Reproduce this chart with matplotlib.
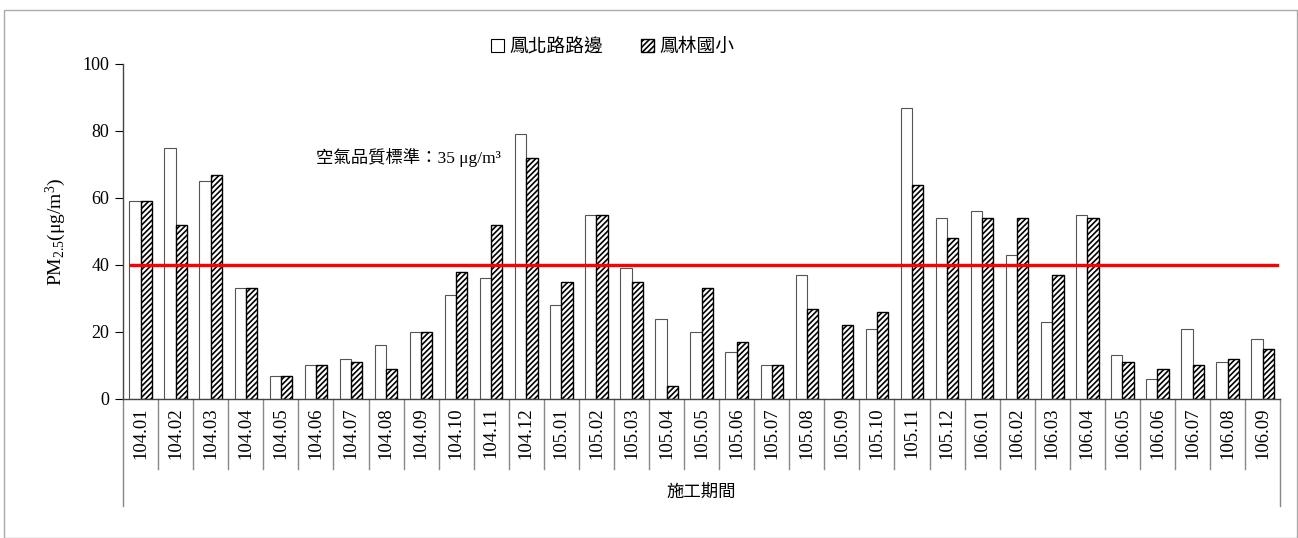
import numpy as np
import matplotlib.pyplot as plt
from matplotlib.patches import Rectangle, Patch

plt.rcParams['font.family'] = ['Liberation Serif', 'Noto Sans CJK TC']
plt.rcParams['mathtext.fontset'] = 'custom'
plt.rcParams['mathtext.rm'] = 'Liberation Serif'
plt.rcParams['mathtext.it'] = 'Liberation Serif:italic'
plt.rcParams['hatch.linewidth'] = 1.2

# data
periods = ['104.01', '104.02', '104.03', '104.04', '104.05', '104.06', '104.07',
           '104.08', '104.09', '104.10', '104.11', '104.12', '105.01', '105.02',
           '105.03', '105.04', '105.05', '105.06', '105.07', '105.08', '105.09',
           '105.10', '105.11', '105.12', '106.01', '106.02', '106.03', '106.04',
           '106.05', '106.06', '106.07', '106.08', '106.09']
fengbei = [59, 75, 65, 33, 7, 10, 12, 16, 20, 31, 36, 79, 28, 55, 39, 24, 20,
           14, 10, 37, 0, 21, 87, 54, 56, 43, 23, 55, 13, 6, 21, 11, 18]
fenglin = [59, 52, 67, 33, 7, 10, 11, 9, 20, 38, 52, 72, 35, 55, 35, 4, 33,
           17, 10, 27, 22, 26, 64, 48, 54, 54, 37, 54, 11, 9, 10, 12, 15]
series_names = ['鳳北路路邊', '鳳林國小']
standard_value = 40
standard_label = '空氣品質標準：35 μg/m³'

n = len(periods)
x = np.arange(n)

fig = plt.figure(figsize=(12.98, 5.38), dpi=100)
fig.patches.append(Rectangle((0.003, 0.0), 0.996, 0.981, transform=fig.transFigure,
                             fill=False, edgecolor='#aaaaaa', linewidth=1.0))
ax = fig.add_axes([0.0948, 0.2584, 0.8915, 0.6227])

w = 0.32
ax.bar(x - w / 2, fengbei, w, facecolor='white', edgecolor='#555555', linewidth=0.8)
ax.bar(x + w / 2, fenglin, w, facecolor='white', edgecolor='black', linewidth=1.0,
       hatch='//////')

ax.axhline(standard_value, xmin=0.007, xmax=0.997, color='#ff0000', linewidth=2.4)
ax.text(5.0, 72, standard_label, fontsize=12.5, va='center', ha='left')

ax.set_xlim(-0.5, n - 0.5)
ax.set_ylim(0, 100)
ax.set_yticks([0, 20, 40, 60, 80, 100])
ax.tick_params(axis='y', direction='out', length=6, labelsize=13, pad=4)
ax.tick_params(axis='x', length=0, pad=6)
ax.set_xticks(x)
ax.set_xticklabels(periods, rotation=90, fontsize=13.5)

for s in ['top', 'right']:
    ax.spines[s].set_visible(False)
for s in ['left', 'bottom']:
    ax.spines[s].set_color('#444444')
    ax.spines[s].set_linewidth(1.0)

# category separators below the axis
trans = ax.get_xaxis_transform()
for b in np.arange(0.5, n - 0.5, 1.0):
    ax.plot([b, b], [0, -0.21], transform=trans, color='#888888', linewidth=1.0, clip_on=False)
for b in [-0.5, n - 0.5]:
    ax.plot([b, b], [0, -0.32], transform=trans, color='#888888', linewidth=1.0, clip_on=False)

ax.set_ylabel('PM$_{2.5}$(μg/m$^{3}$)', fontsize=14, labelpad=10)
ax.text(0.5, -0.28, '施工期間', transform=ax.transAxes, ha='center', va='center', fontsize=12.5)

handles = [Patch(facecolor='white', edgecolor='black', linewidth=0.8),
           Patch(facecolor='white', edgecolor='black', hatch='//////', linewidth=1.0)]
fig.legend(handles, series_names, loc='center', bbox_to_anchor=(0.472, 0.912), ncol=2,
           frameon=False, fontsize=13.5, handlelength=0.7, handleheight=0.7,
           handletextpad=0.3, columnspacing=2.0)

fig.savefig('out.png', dpi=100)
